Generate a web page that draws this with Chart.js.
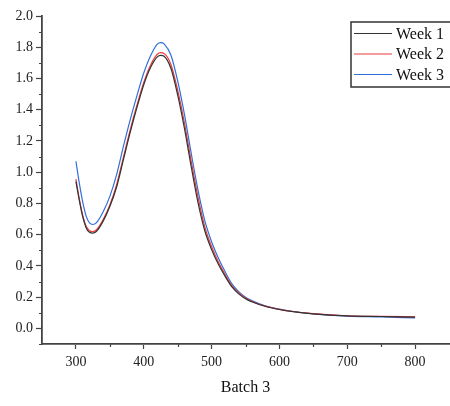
<!DOCTYPE html>
<html>
<head>
<meta charset="utf-8">
<script src="https://cdn.jsdelivr.net/npm/chart.js"></script>
<style>
  html, body { margin: 0; padding: 0; background: #fff; }
  canvas { display: block; }
</style>
</head>
<body>
<canvas id="spectrum" width="450" height="406"></canvas>
<script>
    'use strict';

    // wavelength (nm) sample points
    const wavelengths = [300, 305, 310, 315, 320, 325, 330, 340, 350, 360, 370, 380, 390, 400, 410, 420, 425, 430, 440, 450,
        460, 470, 480, 490, 500, 510, 520, 530, 540, 550, 560, 580, 600, 620, 650, 700, 750, 800];

    const week1 = [0.94, 0.82, 0.715, 0.645, 0.615, 0.61, 0.62, 0.685, 0.78, 0.905, 1.08, 1.255, 1.415, 1.56, 1.67, 1.738, 1.748, 1.742, 1.665, 1.495,
        1.28, 1.035, 0.805, 0.625, 0.505, 0.41, 0.333, 0.265, 0.221, 0.19, 0.169, 0.14, 0.121, 0.107, 0.093, 0.08, 0.076, 0.072];

    const week2 = [0.955, 0.83, 0.725, 0.655, 0.625, 0.62, 0.63, 0.695, 0.79, 0.92, 1.095, 1.27, 1.43, 1.575, 1.685, 1.755, 1.765, 1.76, 1.69, 1.525,
        1.315, 1.07, 0.84, 0.65, 0.525, 0.425, 0.345, 0.273, 0.227, 0.194, 0.172, 0.141, 0.122, 0.108, 0.094, 0.081, 0.077, 0.074];

    const week3 = [1.07, 0.93, 0.81, 0.72, 0.675, 0.665, 0.675, 0.745, 0.845, 0.985, 1.165, 1.335, 1.49, 1.635, 1.745, 1.82, 1.83, 1.822, 1.75, 1.585,
        1.37, 1.12, 0.885, 0.69, 0.555, 0.45, 0.362, 0.285, 0.235, 0.2, 0.176, 0.143, 0.123, 0.108, 0.093, 0.079, 0.074, 0.067];

    const seriesNames = ['Week 1', 'Week 2', 'Week 3'];
    const seriesColors = ['#333333', '#ee3a3a', '#2f6fdb'];

    const xTicks = [300, 400, 500, 600, 700, 800];
    const xMinorTicks = [350, 450, 550, 650, 750];
    const yTicks = [0, 0.2, 0.4, 0.6, 0.8, 1.0, 1.2, 1.4, 1.6, 1.8, 2.0];
    const yMinorTicks = [-0.1, 0.1, 0.3, 0.5, 0.7, 0.9, 1.1, 1.3, 1.5, 1.7, 1.9];

    const FONT = '"Liberation Serif", "Times New Roman", serif';
    const AXIS_COLOR = '#444';

    function toPoints(values) {
        return wavelengths.map((w, i) => ({ x: w, y: values[i] }));
    }

    // small outward minor ticks, like the original plot
    const minorTicks = {
        id: 'minorTicks',
        afterDraw(chart) {
            const ctx = chart.ctx;
            const xs = chart.scales.x;
            const ys = chart.scales.y;
            const area = chart.chartArea;
            ctx.save();
            ctx.strokeStyle = AXIS_COLOR;
            ctx.lineWidth = 1.2;
            ctx.beginPath();
            xMinorTicks.forEach(v => {
                const px = Math.round(xs.getPixelForValue(v)) + 0.5;
                ctx.moveTo(px, area.bottom);
                ctx.lineTo(px, area.bottom + 3);
            });
            yMinorTicks.forEach(v => {
                const py = Math.round(ys.getPixelForValue(v)) + 0.5;
                ctx.moveTo(area.left, py);
                ctx.lineTo(area.left - 3, py);
            });
            ctx.stroke();
            ctx.restore();
        }
    };

    // boxed legend in the top right corner
    const boxLegend = {
        id: 'boxLegend',
        afterDraw(chart) {
            const ctx = chart.ctx;
            const left = 351, top = 22, bottom = 87, right = 453;
            ctx.save();
            ctx.strokeStyle = '#333';
            ctx.lineWidth = 1.5;
            ctx.strokeRect(left, top, right - left, bottom - top);
            ctx.font = '16px ' + FONT;
            ctx.textBaseline = 'middle';
            ctx.fillStyle = '#111';
            chart.data.datasets.forEach((ds, i) => {
                const y = 33.5 + i * 20.5;
                ctx.strokeStyle = ds.borderColor;
                ctx.lineWidth = 1.2;
                ctx.beginPath();
                ctx.moveTo(354, y);
                ctx.lineTo(392, y);
                ctx.stroke();
                ctx.fillText(ds.label, 396, y + 1);
            });
            ctx.restore();
        }
    };

    const ctx = document.getElementById('spectrum').getContext('2d');
    new Chart(ctx, {
        type: 'line',
        data: {
            datasets: [week1, week2, week3].map((vals, i) => ({
                label: seriesNames[i],
                data: toPoints(vals),
                borderColor: seriesColors[i],
                borderWidth: 1.2,
                pointRadius: 0,
                fill: false,
                cubicInterpolationMode: 'monotone'
            }))
        },
        options: {
            responsive: false,
            devicePixelRatio: 1,
            animation: false,
            layout: { padding: { top: 16, right: 1, left: 0, bottom: 0 } },
            plugins: {
                legend: { display: false },
                tooltip: { enabled: false }
            },
            scales: {
                x: {
                    type: 'linear',
                    min: 250,
                    max: 850,
                    afterBuildTicks: (scale) => { scale.ticks = xTicks.map(v => ({ value: v })); },
                    afterFit: (scale) => { scale.height = 62; },
                    grid: { drawOnChartArea: false, drawTicks: true, tickLength: 5, tickColor: AXIS_COLOR, tickWidth: 1.2 },
                    border: { display: true, color: AXIS_COLOR, width: 1.8 },
                    ticks: { font: { family: FONT, size: 14 }, color: '#222', padding: 5, maxRotation: 0 },
                    title: { display: true, text: 'Batch 3', font: { family: FONT, size: 16 }, color: '#111', padding: { top: 0, bottom: 9 } }
                },
                y: {
                    min: -0.1,
                    max: 2.0,
                    afterBuildTicks: (scale) => { scale.ticks = yTicks.map(v => ({ value: v })); },
                    afterFit: (scale) => { scale.width = 42; },
                    grid: { drawOnChartArea: false, drawTicks: true, tickLength: 6, tickColor: AXIS_COLOR, tickWidth: 1.2 },
                    border: { display: true, color: AXIS_COLOR, width: 1.8 },
                    ticks: {
                        font: { family: FONT, size: 14 },
                        color: '#222',
                        padding: 3,
                        callback: (v) => Number(v).toFixed(1)
                    }
                }
            }
        },
        plugins: [minorTicks, boxLegend]
    });
</script>
</body>
</html>
